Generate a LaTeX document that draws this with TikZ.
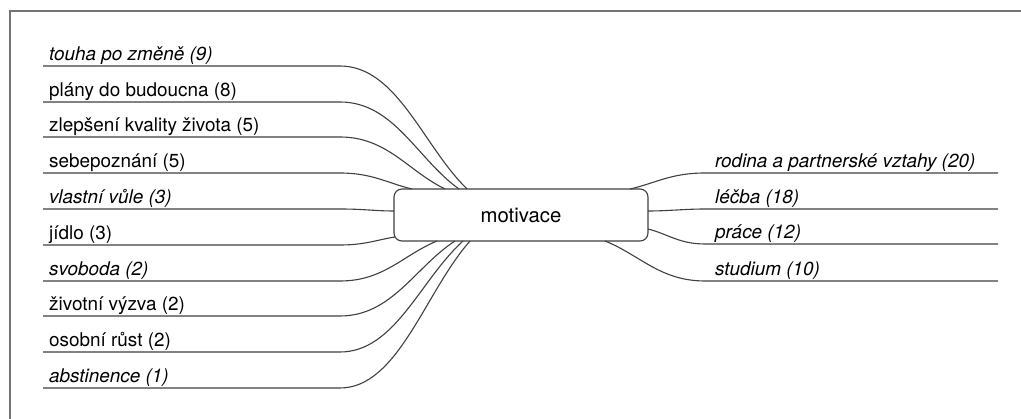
\documentclass[tikz,border=0pt]{standalone}
\usepackage{fontspec}
\setmainfont{TeX Gyre Heros}
\begin{document}
\begin{tikzpicture}[x=1pt,y=-1pt,
  lbl/.style={anchor=base west,inner sep=0pt,font=\fontsize{18.9}{20}\selectfont,text=black},
  lbli/.style={lbl,font=\fontsize{18.9}{20}\selectfont\itshape},
  conn/.style={draw=black!75,line width=1.1pt},
  frame/.style={draw=black!55,line width=1.3pt}]
\useasboundingbox (0,0) rectangle (1021,419);
\fill[white] (0,0) rectangle (1021,419);
\coordinate (fa) at (10,419);
\coordinate (fb) at (10,11);
\coordinate (fc) at (1021,11);
\draw[frame] (fa) -- (fb) -- (fc);
% central box
\node[draw=black!75,line width=1.1pt,rounded corners=8pt,fill=white,minimum width=254pt,minimum height=52pt,inner sep=0pt,font=\fontsize{20.3}{22}\selectfont] (m) at (521,215) {motivace};
% box attachment points
\coordinate (b1) at (467,189);
\coordinate (b2) at (459,189);
\coordinate (b3) at (445,189);
\coordinate (b4) at (412,189);
\coordinate (b5) at (394,211);
\coordinate (b6) at (395,237);
\coordinate (b7) at (437,241);
\coordinate (b8) at (455,241);
\coordinate (b9) at (463,241);
\coordinate (b10) at (470,241);
\coordinate (r1) at (630,189);
\coordinate (r2) at (648,211);
\coordinate (r3) at (648,229);
\coordinate (r4) at (605,241);
% left labels
\node[lbli] (l1) at (49,61) {touha po změně (9)};
\node[lbl]  (l2) at (49,97) {plány do budoucna (8)};
\node[lbl]  (l3) at (49,132) {zlepšení kvality života (5)};
\node[lbl]  (l4) at (49,168) {sebepoznání (5)};
\node[lbli] (l5) at (49,204) {vlastní vůle (3)};
\node[lbl]  (l6) at (49,240) {jídlo (3)};
\node[lbli] (l7) at (49,276) {svoboda (2)};
\node[lbl]  (l8) at (49,311) {životní výzva (2)};
\node[lbl]  (l9) at (49,347) {osobní růst (2)};
\node[lbli] (l10) at (49,383) {abstinence (1)};
% underline endpoints
\coordinate (u1a) at (43,66);  \coordinate (u1b) at (340,66);
\coordinate (u2a) at (43,102); \coordinate (u2b) at (340,102);
\coordinate (u3a) at (43,137); \coordinate (u3b) at (340,137);
\coordinate (u4a) at (43,173); \coordinate (u4b) at (340,173);
\coordinate (u5a) at (43,209); \coordinate (u5b) at (340,209);
\coordinate (u6a) at (43,245); \coordinate (u6b) at (340,245);
\coordinate (u7a) at (43,281); \coordinate (u7b) at (340,281);
\coordinate (u8a) at (43,316); \coordinate (u8b) at (340,316);
\coordinate (u9a) at (43,352); \coordinate (u9b) at (340,352);
\coordinate (u10a) at (43,388); \coordinate (u10b) at (340,388);
\draw[conn] (u1a) -- (u1b) .. controls (397,66) and (423,146) .. (b1);
\draw[conn] (u2a) -- (u2b) .. controls (394,102) and (417,159) .. (b2);
\draw[conn] (u3a) -- (u3b) .. controls (387,137) and (408,171) .. (b3);
\draw[conn] (u4a) -- (u4b) .. controls (372,173) and (387,183) .. (b4);
\draw[conn] (u5a) -- (u5b) .. controls (364,209) and (375,211) .. (b5);
\draw[conn] (u6a) -- (u6b) .. controls (365,245) and (376,240) .. (b6);
\draw[conn] (u7a) -- (u7b) .. controls (384,281) and (403,255) .. (b7);
\draw[conn] (u8a) -- (u8b) .. controls (392,316) and (415,267) .. (b8);
\draw[conn] (u9a) -- (u9b) .. controls (395,352) and (420,280) .. (b9);
\draw[conn] (u10a) -- (u10b) .. controls (398,388) and (425,292) .. (b10);
% right labels
\node[lbli] (q1) at (715,168) {rodina a partnerské vztahy (20)};
\node[lbli] (q2) at (715,204) {léčba (18)};
\node[lbli] (q3) at (715,239) {práce (12)};
\node[lbli] (q4) at (715,276) {studium (10)};
\coordinate (v1a) at (705,173); \coordinate (v1b) at (998,173);
\coordinate (v2a) at (705,209); \coordinate (v2b) at (998,209);
\coordinate (v3a) at (705,244); \coordinate (v3b) at (998,244);
\coordinate (v4a) at (705,281); \coordinate (v4b) at (998,281);
\draw[conn] (r1) .. controls (656,183) and (671,173) .. (v1a) -- (v1b);
\draw[conn] (r2) .. controls (668,211) and (685,209) .. (v2a) -- (v2b);
\draw[conn] (r3) .. controls (668,234) and (679,244) .. (v3a) -- (v3b);
\draw[conn] (r4) .. controls (640,255) and (660,281) .. (v4a) -- (v4b);
\end{tikzpicture}
\end{document}
